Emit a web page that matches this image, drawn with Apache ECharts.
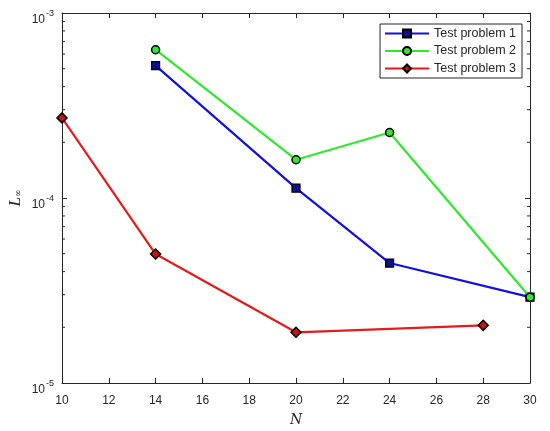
<!DOCTYPE html>
<html>
<head>
<meta charset="utf-8">
<script src="https://cdn.jsdelivr.net/npm/echarts@6/dist/echarts.min.js"></script>
<style>
html,body{margin:0;padding:0;background:#fff;}
#main{width:550px;height:431px;}
</style>
</head>
<body>
<div id="main"></div>
<script>
//横轴刻度
let xTicks = [10, 12, 14, 16, 18, 20, 22, 24, 26, 28, 30]
//图例名称
let seriesNames = ['Test problem 1', 'Test problem 2', 'Test problem 3']
//Test problem 1
let n1 = [14, 20, 24, 30]
let err1 = [5.19e-4, 1.13e-4, 4.45e-5, 2.91e-5]
//Test problem 2
let n2 = [14, 20, 24, 30]
let err2 = [6.33e-4, 1.61e-4, 2.26e-4, 2.91e-5]
//Test problem 3
let n3 = [10, 14, 20, 28]
let err3 = [2.71e-4, 4.98e-5, 1.88e-5, 2.05e-5]

let axisColor = '#262626'
let font = '"Liberation Sans", Arial, sans-serif'

function pairs(xs, ys){
    return xs.map((x, i) => [x, ys[i]])
}

function yLabel(v){
    let e = Math.round(Math.log10(v))
    return '{b|10}{s|' + e + '}'
}

let chart = echarts.init(document.getElementById('main'))

let tickCommon = {show: true, inside: true, length: 5, lineStyle: {color: axisColor, width: 1}}
let lineCommon = {show: true, lineStyle: {color: axisColor, width: 1}}

let option = {
    animation: false,
    backgroundColor: '#fff',
    grid: {left: 62, right: 20, top: 13, bottom: 48, containLabel: false, outerBoundsMode: 'none'},
    legend: {
        orient: 'vertical',
        right: 28,
        top: 24,
        data: seriesNames,
        itemWidth: 44,
        itemHeight: 10,
        itemGap: 4.5,
        padding: [3, 6, 3, 4],
        backgroundColor: '#fff',
        borderColor: axisColor,
        borderWidth: 1,
        borderRadius: 0,
        textStyle: {fontFamily: font, fontSize: 12.5, color: axisColor}
    },
    xAxis: [{
        type: 'value',
        min: 10,
        max: 30,
        interval: 2,
        name: 'N',
        nameLocation: 'middle',
        nameGap: 30,
        nameMoveOverlap: false,
        nameTextStyle: {fontFamily: '"DejaVu Serif", "Liberation Serif", serif', fontStyle: 'italic', fontSize: 14, color: axisColor},
        axisLine: lineCommon,
        axisTick: tickCommon,
        splitLine: {show: false},
        axisLabel: {fontFamily: font, fontSize: 12, color: axisColor, margin: 12,
            formatter: v => xTicks.indexOf(v) >= 0 ? String(v) : ''}
    }, {
        type: 'value',
        min: 10,
        max: 30,
        interval: 2,
        position: 'top',
        axisLine: lineCommon,
        axisTick: tickCommon,
        splitLine: {show: false},
        axisLabel: {show: false}
    }],
    yAxis: [{
        type: 'log',
        logBase: 10,
        min: 1e-5,
        max: 1e-3,
        name: '{i|L}{sub|∞}',
        nameLocation: 'middle',
        nameGap: 38,
        nameMoveOverlap: false,
        nameRotate: 90,
        nameTextStyle: {
            color: axisColor,
            rich: {
                i: {fontFamily: '"Liberation Serif", serif', fontStyle: 'italic', fontSize: 17, color: axisColor},
                sub: {fontFamily: '"DejaVu Serif", serif', fontSize: 9, color: axisColor, padding: [7, 0, 0, 0]}
            }
        },
        axisLine: lineCommon,
        axisTick: tickCommon,
        splitLine: {show: false},
        axisLabel: {
            formatter: yLabel,
            margin: 8,
            rich: {
                b: {fontFamily: font, fontSize: 12, color: axisColor, lineHeight: 12, padding: [7, 0, 0, 0], verticalAlign: 'top'},
                s: {fontFamily: font, fontSize: 9, color: axisColor, lineHeight: 9, padding: [2, 0, 0, 1], verticalAlign: 'top'}
            }
        }
    }, {
        type: 'log',
        logBase: 10,
        min: 1e-5,
        max: 1e-3,
        position: 'right',
        axisLine: lineCommon,
        axisTick: tickCommon,
        splitLine: {show: false},
        axisLabel: {show: false}
    }],
    series: [
        {
            name: seriesNames[0],
            type: 'line',
            data: pairs(n1, err1),
            color: '#1010e0',
            lineStyle: {width: 2.2, color: '#1010e0'},
            symbol: 'rect',
            symbolSize: 8,
            itemStyle: {color: '#10108c', borderColor: '#000', borderWidth: 1.2},
            z: 3
        },
        {
            name: seriesNames[1],
            type: 'line',
            data: pairs(n2, err2),
            color: '#2eea2e',
            lineStyle: {width: 2.2, color: '#2eea2e'},
            symbol: 'circle',
            symbolSize: 8,
            itemStyle: {color: '#2eea2e', borderColor: '#000', borderWidth: 1.5},
            z: 4
        },
        {
            name: seriesNames[2],
            type: 'line',
            data: pairs(n3, err3),
            color: '#e61a1a',
            lineStyle: {width: 2.2, color: '#e61a1a'},
            symbol: 'diamond',
            symbolSize: 10,
            itemStyle: {color: '#c41414', borderColor: '#000', borderWidth: 1.5},
            z: 3
        }
    ]
}
chart.setOption(option)

//对数轴次刻度 2~9
let minor = []
let xl = chart.convertToPixel({xAxisIndex: 0}, 10)
let xr = chart.convertToPixel({xAxisIndex: 0}, 30)
for (let k = -5; k < -3; k++) {
    for (let m = 2; m <= 9; m++) {
        let y = chart.convertToPixel({yAxisIndex: 0}, m * Math.pow(10, k))
        minor.push({type: 'line', shape: {x1: xl, y1: y, x2: xl + 3, y2: y}, style: {stroke: axisColor, lineWidth: 1}, silent: true})
        minor.push({type: 'line', shape: {x1: xr, y1: y, x2: xr - 3, y2: y}, style: {stroke: axisColor, lineWidth: 1}, silent: true})
    }
}
chart.setOption({graphic: minor})
</script>
</body>
</html>
